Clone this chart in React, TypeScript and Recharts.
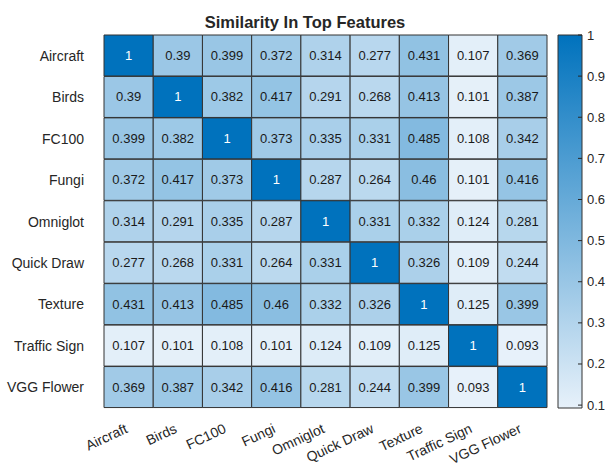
import { BarChart, Bar, XAxis, YAxis, Cell, LabelList } from "recharts"

const FONT = "'Liberation Sans', Arial, Helvetica, sans-serif"

const datasets = ["Aircraft", "Birds", "FC100", "Fungi", "Omniglot", "Quick Draw", "Texture", "Traffic Sign", "VGG Flower"]

const aircraft = [1, 0.39, 0.399, 0.372, 0.314, 0.277, 0.431, 0.107, 0.369]
const birds = [0.39, 1, 0.382, 0.417, 0.291, 0.268, 0.413, 0.101, 0.387]
const fc100 = [0.399, 0.382, 1, 0.373, 0.335, 0.331, 0.485, 0.108, 0.342]
const fungi = [0.372, 0.417, 0.373, 1, 0.287, 0.264, 0.46, 0.101, 0.416]
const omniglot = [0.314, 0.291, 0.335, 0.287, 1, 0.331, 0.332, 0.124, 0.281]
const quickDraw = [0.277, 0.268, 0.331, 0.264, 0.331, 1, 0.326, 0.109, 0.244]
const texture = [0.431, 0.413, 0.485, 0.46, 0.332, 0.326, 1, 0.125, 0.399]
const trafficSign = [0.107, 0.101, 0.108, 0.101, 0.124, 0.109, 0.125, 1, 0.093]
const vggFlower = [0.369, 0.387, 0.342, 0.416, 0.281, 0.244, 0.399, 0.093, 1]

const matrix = [aircraft, birds, fc100, fungi, omniglot, quickDraw, texture, trafficSign, vggFlower]

const colorbarTicks = [0.1, 0.2, 0.3, 0.4, 0.5, 0.6, 0.7, 0.8, 0.9, 1]
const CMIN = 0.093
const CMAX = 1

const LOW = [231, 241, 250]
const HIGH = [0, 114, 189]

function colorFor(v: number) {
  const t = Math.max(0, Math.min(1, (v - CMIN) / (CMAX - CMIN)))
  const c = LOW.map((lo, i) => Math.round(lo + (HIGH[i] - lo) * t))
  return `rgb(${c[0]},${c[1]},${c[2]})`
}

// one row per dataset, every column a stacked unit bar, real value kept aside for color/label
const rows = datasets.map((name, r) => {
  const row: any = { name }
  matrix[r].forEach((v, c) => {
    row[`c${c}`] = 1
    row[`v${c}`] = v
  })
  return row
})

const colTicks = datasets.map((_, i) => i + 0.5)

const W = 606
const H = 468

function XTick({ x, y, payload }: any) {
  const label = datasets[Math.floor(payload.value)]
  const ty = y + 16
  return (
    <text x={x} y={ty} transform={`rotate(-25, ${x}, ${ty})`} textAnchor="end" fontSize={14} fill="#262626" fontFamily={FONT}>
      {label}
    </text>
  )
}

function YTick({ x, y, payload }: any) {
  return (
    <text x={x - 12} y={y} dy={5} textAnchor="end" fontSize={14} fill="#262626" fontFamily={FONT}>
      {payload.value}
    </text>
  )
}

function CellLabel({ x, y, width, height, value }: any) {
  return (
    <text
      x={x + width / 2}
      y={y + height / 2}
      dy={4.5}
      textAnchor="middle"
      fontSize={13}
      fill={value > 0.6 ? "#ffffff" : "#1a1a1a"}
      fontFamily={FONT}
    >
      {String(value)}
    </text>
  )
}

function CbTick({ x, y, payload }: any) {
  return (
    <g>
      <line x1={x - 4} x2={x} y1={y} y2={y} stroke="#262626" strokeWidth={1} />
      <text x={x + 5} y={y} dy={4.5} textAnchor="start" fontSize={13} fill="#262626" fontFamily={FONT}>
        {payload.value}
      </text>
    </g>
  )
}

const colorbarData = [{ name: "cb", range: [CMIN, CMAX] }]

export default function App() {
  return (
    <div style={{ position: "absolute", left: 0, top: 0, width: W, height: H, background: "#fff", fontFamily: FONT }}>
      <div style={{ position: "absolute", left: 0, top: 0 }}>
        <BarChart
          width={W}
          height={H}
          data={rows}
          layout="vertical"
          barCategoryGap={0}
          margin={{ top: 35, right: 59, bottom: 0, left: 0 }}
        >
          <XAxis
            type="number"
            domain={[0, 9]}
            ticks={colTicks}
            interval={0}
            axisLine={false}
            tickLine={false}
            height={60}
            tick={<XTick />}
          />
          <YAxis type="category" dataKey="name" width={104} axisLine={false} tickLine={false} tick={<YTick />} interval={0} />
          {datasets.map((_, c) => (
            <Bar key={c} dataKey={`c${c}`} stackId="m" isAnimationActive={false} stroke="#333333" strokeWidth={1}>
              {rows.map((row, r) => (
                <Cell key={r} fill={colorFor(row[`v${c}`])} />
              ))}
              <LabelList dataKey={`v${c}`} content={<CellLabel />} />
            </Bar>
          ))}
        </BarChart>
      </div>
      <div style={{ position: "absolute", left: 0, top: 0 }}>
        <BarChart
          width={W}
          height={H}
          data={colorbarData}
          barCategoryGap={0}
          margin={{ top: 35, right: 0, bottom: 60, left: 558 }}
        >
          <defs>
            <linearGradient id="cbGrad" x1="0" y1="0" x2="0" y2="1">
              <stop offset="0%" stopColor={colorFor(CMAX)} />
              <stop offset="100%" stopColor={colorFor(CMIN)} />
            </linearGradient>
          </defs>
          <XAxis dataKey="name" hide />
          <YAxis
            orientation="right"
            type="number"
            domain={[CMIN, CMAX]}
            ticks={colorbarTicks}
            interval={0}
            width={24}
            axisLine={false}
            tickLine={false}
            tickSize={0}
            tickMargin={0}
            tick={<CbTick />}
          />
          <Bar dataKey="range" fill="url(#cbGrad)" stroke="#333333" strokeWidth={1} isAnimationActive={false} />
        </BarChart>
      </div>
      <div
        style={{
          position: "absolute",
          left: 0,
          top: 13,
          width: 610,
          textAlign: "center",
          fontSize: 16.5,
          fontWeight: "bold",
          color: "#262626",
          fontFamily: FONT,
        }}
      >
        Similarity In Top Features
      </div>
    </div>
  )
}
